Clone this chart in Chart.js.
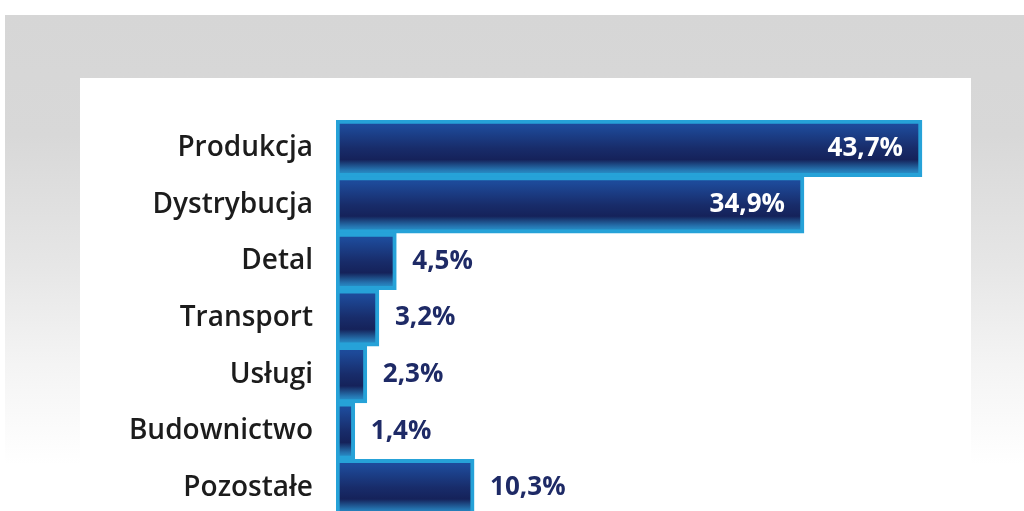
<!DOCTYPE html>
<html><head><meta charset="utf-8">
<script src="https://cdn.jsdelivr.net/npm/chart.js@4/dist/chart.umd.min.js"></script>
<style>
html,body{margin:0;padding:0;width:1024px;height:511px;overflow:hidden;background:#fff;}
#bg{position:absolute;left:5px;top:15px;width:1019px;height:496px;
 background:linear-gradient(to bottom,#d6d6d6 0px,#d8d8d8 120px,#e6e6e6 250px,#f4f4f4 350px,#ffffff 450px);}
#panel{position:absolute;left:80px;top:78px;width:891px;height:433px;background:#fff;}
#wrap{position:absolute;left:0;top:0;width:1024px;height:520px;}
</style></head>
<body>
<div id="bg"></div><div id="panel"></div>
<div id="wrap"><canvas id="c"></canvas></div>
<script>
const categories = ["Produkcja","Dystrybucja","Detal","Transport","Usługi","Budownictwo","Pozostałe"];
const shares = [43.7, 34.9, 4.5, 3.2, 2.3, 1.4, 10.3];
const valueLabels = ["43,7%","34,9%","4,5%","3,2%","2,3%","1,4%","10,3%"];

function barFill(ctx){
  const chart = ctx.chart;
  const ys = chart.scales && chart.scales.y;
  if(!ys || !chart.chartArea) return '#172a66';
  const c = ys.getPixelForValue(ctx.dataIndex);
  const half = ys.height / categories.length / 2;
  const g = chart.ctx.createLinearGradient(0, c - half, 0, c + half);
  g.addColorStop(0, '#1e4e9f');
  g.addColorStop(0.12, '#1d4998');
  g.addColorStop(0.5, '#182c6a');
  g.addColorStop(0.7, '#15225a');
  g.addColorStop(0.88, '#2574b0');
  g.addColorStop(1, '#28a3d8');
  return g;
}

const valuePlugin = {
  id: 'vals',
  afterDatasetsDraw(chart){
    const meta = chart.getDatasetMeta(0);
    const ctx = chart.ctx;
    ctx.save();
    ctx.font = '700 26px "Open Sans", sans-serif';
    ctx.textBaseline = 'middle';
    meta.data.forEach((bar, i) => {
      const v = shares[i];
      if (v > 20) {
        ctx.fillStyle = '#ffffff';
        ctx.textAlign = 'right';
        ctx.fillText(valueLabels[i], bar.x - 19, bar.y);
      } else {
        ctx.fillStyle = '#1e2a66';
        ctx.textAlign = 'left';
        ctx.fillText(valueLabels[i], bar.x + 16, bar.y);
      }
    });
    ctx.restore();
  }
};

new Chart(document.getElementById('c'), {
  type: 'bar',
  data: {
    labels: categories,
    datasets: [{
      data: shares,
      backgroundColor: barFill,
      borderColor: '#26a2d8',
      borderWidth: 4,
      borderSkipped: false,
      categoryPercentage: 1,
      barPercentage: 1
    }]
  },
  options: {
    indexAxis: 'y',
    responsive: true,
    maintainAspectRatio: false,
    animation: false,
    events: [],
    layout: { padding: { left: 0, right: 98, top: 120, bottom: 4 } },
    plugins: { legend: { display: false }, tooltip: { enabled: false } },
    scales: {
      x: { display: false, min: 0, max: 44 },
      y: {
        afterFit(s){ s.width = 336; s.paddingTop = 0; s.paddingBottom = 0; },
        grid: { display: false, drawTicks: false },
        border: { display: false },
        ticks: {
          padding: 23,
          color: '#1c1c1c',
          font: { family: '"Open Sans", sans-serif', size: 28, weight: '600' }
        }
      }
    }
  },
  plugins: [valuePlugin]
});
</script>
</body></html>
